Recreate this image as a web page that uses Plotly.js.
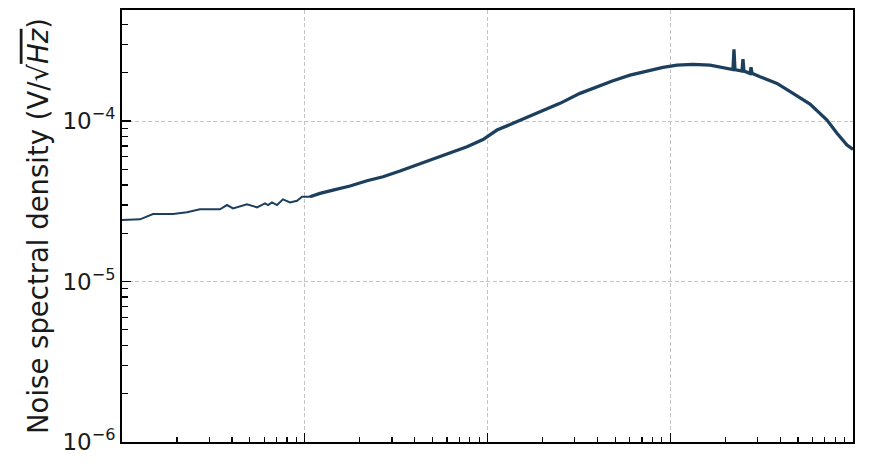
<!DOCTYPE html>
<html><head><meta charset="utf-8">
<script src="https://cdn.plot.ly/plotly-3.0.1.min.js"></script>
<style>html,body{margin:0;padding:0;background:#fff}</style>
</head><body><div id="chart" style="width:879px;height:469px"></div>
<script>
// Frequency (Hz) and noise spectral density (V/sqrt(Hz))
const freq = [1.0, 1.255, 1.478, 1.901, 2.268, 2.672, 3.438, 3.754, 4.05, 4.831, 5.48, 6.06, 6.295, 6.62, 7.05, 7.60, 8.31, 9.07, 9.66, 10.68,
  12.12, 14.28, 17.69, 21.91, 26.81, 33.2, 41.13, 50.32, 62.35, 77.24, 94.5, 112.7, 137.9, 170.9, 193.8, 211.7, 249.3, 320.7, 397.3, 486.1,
  602.3, 746.3, 912.7, 1089, 1332, 1651, 2044, 2204, 2232, 2260, 2470, 2500, 2532, 2732, 2766, 2801, 3098, 3838, 4696, 5817, 7206, 8174, 9272, 10000];
const psd = [2.415e-5, 2.44e-5, 2.634e-5, 2.634e-5, 2.70e-5, 2.818e-5, 2.818e-5, 2.997e-5, 2.858e-5, 3.027e-5, 2.90e-5, 3.07e-5, 2.997e-5, 3.114e-5, 2.997e-5, 3.25e-5, 3.114e-5, 3.186e-5, 3.376e-5, 3.376e-5,
  3.544e-5, 3.716e-5, 3.936e-5, 4.246e-5, 4.498e-5, 4.882e-5, 5.32e-5, 5.771e-5, 6.345e-5, 6.917e-5, 7.668e-5, 8.789e-5, 9.676e-5, 1.0745e-4, 1.143e-4, 1.183e-4, 1.289e-4, 1.488e-4, 1.636e-4, 1.783e-4,
  1.934e-4, 2.057e-4, 2.16e-4, 2.233e-4, 2.256e-4, 2.233e-4, 2.129e-4, 2.094e-4, 2.797e-4, 2.094e-4, 2.048e-4, 2.433e-4, 2.048e-4, 1.982e-4, 2.16e-4, 1.982e-4, 1.888e-4, 1.717e-4, 1.488e-4, 1.276e-4, 1.0145e-4, 8.383e-5, 7.088e-5, 6.66e-5];

const yTickVals = [1e-6, 1e-5, 1e-4];
const yTickText = ['10<sup>−6</sup>', '10<sup>−5</sup>', '10<sup>−4</sup>'];
const xTickVals = [1, 10, 100, 1000, 10000];
const yTitle = 'Noise spectral density (V/√<span style="text-decoration:overline"><i>Hz</i></span>)';

function minorVals(lo, hi) {
  const out = [];
  for (let e = lo; e < hi; e++) for (let d = 2; d <= 9; d++) out.push(d * Math.pow(10, e));
  return out;
}

const lineColor = '#1d3f5e';
const split = 20;
const traces = [
  {x: freq.slice(0, split), y: psd.slice(0, split), mode: 'lines', line: {color: lineColor, width: 2}, hoverinfo: 'skip'},
  {x: freq.slice(split - 1), y: psd.slice(split - 1), mode: 'lines', line: {color: lineColor, width: 3.3}, hoverinfo: 'skip'}
];

const axisCommon = {
  type: 'log', showline: true, linecolor: '#000', linewidth: 2, mirror: true,
  ticks: 'inside', ticklen: 9, tickwidth: 1.2, tickcolor: '#000',
  showgrid: true, gridcolor: '#c4c4c4', griddash: '4px,2.5px', gridwidth: 1,
  zeroline: false
};

const layout = {
  width: 879, height: 469,
  margin: {l: 122, r: 26, t: 10, b: 27},
  paper_bgcolor: '#fff', plot_bgcolor: '#fff',
  showlegend: false,
  font: {family: 'DejaVu Sans', color: '#1a1a1a'},
  xaxis: Object.assign({}, axisCommon, {
    range: [0, 4], tickmode: 'array', tickvals: xTickVals, showticklabels: false,
    minor: {tickmode: 'array', tickvals: minorVals(0, 4), ticks: 'inside', ticklen: 5.5, tickwidth: 1.2, tickcolor: '#000', showgrid: false}
  }),
  yaxis: Object.assign({}, axisCommon, {
    range: [-6, -3.308], tickmode: 'array', tickvals: yTickVals, ticktext: yTickText,
    tickfont: {size: 23, color: '#1a1a1a'},
    minor: {tickmode: 'array', tickvals: minorVals(-6, -3), ticks: 'inside', ticklen: 5.5, tickwidth: 1.2, tickcolor: '#000', showgrid: false},
    title: {text: yTitle, font: {size: 27.5, color: '#1a1a1a'}, standoff: 6}
  })
};

Plotly.newPlot('chart', traces, layout, {staticPlot: true, displayModeBar: false});
</script>
</body></html>
